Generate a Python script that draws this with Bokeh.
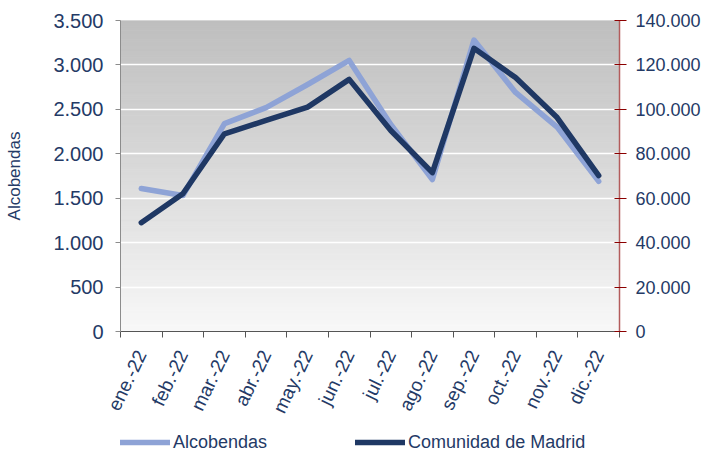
import numpy as np
from bokeh.plotting import figure
from bokeh.layouts import column
from bokeh.models import Range1d, LinearAxis, FixedTicker, Legend, LegendItem, ColumnDataSource
from bokeh.embed import file_html
from bokeh.resources import INLINE

months = ["ene.-22", "feb.-22", "mar.-22", "abr.-22", "may.-22", "jun.-22",
          "jul.-22", "ago.-22", "sep.-22", "oct.-22", "nov.-22", "dic.-22"]
alcobendas = [1610, 1530, 2340, 2520, 2780, 3050, 2330, 1710, 3280, 2690, 2300, 1690]
madrid = [49000, 62000, 89000, 95000, 101000, 113500, 90500, 71500, 127500, 114300, 96300, 70200]
left_ticks = [0, 500, 1000, 1500, 2000, 2500, 3000, 3500]
left_labels = ["0", "500", "1.000", "1.500", "2.000", "2.500", "3.000", "3.500"]
right_ticks = [0, 20000, 40000, 60000, 80000, 100000, 120000, 140000]
right_labels = ["0", "20.000", "40.000", "60.000", "80.000", "100.000", "120.000", "140.000"]
series_names = ["Alcobendas", "Comunidad de Madrid"]

NAVY = "#243a66"
FONT = "Liberation Sans"
C_ALC = "#8ea3d6"
C_MAD = "#1f3864"

n = len(months)
xc = [i + 0.5 for i in range(n)]

p = figure(width=703, height=424, x_range=Range1d(0, n), y_range=Range1d(0, 3500),
           output_backend="svg", toolbar_location=None,
           min_border_left=120, min_border_top=20, min_border_right=80, min_border_bottom=0)
p.extra_y_ranges = {"right": Range1d(0, 140000)}
p.outline_line_color = None
p.background_fill_color = "white"

# gradient background
N = 150
edges = np.linspace(0, 3500, N + 1)
cols = []
for i in range(N):
    t = (i + 0.5) / N  # 0 bottom -> 1 top
    v = int(round(248 - (248 - 190) * t))
    cols.append("#%02x%02x%02x" % (v, v, v))
bg = ColumnDataSource(dict(b=edges[:-1], t=edges[1:], c=cols))
p.quad(left=0, right=n, bottom="b", top="t", fill_color="c", line_color="c", line_width=1,
       source=bg, level="image")

# grid
p.xgrid.visible = False
p.ygrid.ticker = FixedTicker(ticks=left_ticks)
p.ygrid.grid_line_color = "white"
p.ygrid.grid_line_width = 1.5

p.line(xc, alcobendas, line_color=C_ALC, line_width=5.5, line_cap="round", line_join="round")
p.line(xc, madrid, line_color=C_MAD, line_width=5.5, line_cap="round", line_join="round",
       y_range_name="right")

# left axis
ya = p.yaxis[0]
ya.ticker = FixedTicker(ticks=left_ticks)
ya.major_label_overrides = {t: l for t, l in zip(left_ticks, left_labels)}
ya.axis_line_color = "#8c8c8c"
ya.major_tick_line_color = "#8c8c8c"
ya.major_tick_in = 0
ya.major_tick_out = 5
ya.minor_tick_line_color = None
ya.major_label_text_font = FONT
ya.major_label_text_font_size = "20px"
ya.major_label_text_color = NAVY
ya.major_label_standoff = 12
ya.axis_label = "Alcobendas"
ya.axis_label_text_font = FONT
ya.axis_label_text_font_size = "17px"
ya.axis_label_text_font_style = "normal"
ya.axis_label_text_color = NAVY
ya.axis_label_standoff = 26

# right axis
ra = LinearAxis(y_range_name="right", ticker=FixedTicker(ticks=right_ticks))
ra.major_label_overrides = {t: l for t, l in zip(right_ticks, right_labels)}
ra.axis_line_color = "#b35c5c"
ra.axis_line_width = 1.5
ra.major_tick_line_color = "#8b0000"
ra.major_tick_in = 5
ra.major_tick_out = 7
ra.minor_tick_line_color = None
ra.major_label_text_font = FONT
ra.major_label_text_font_size = "18px"
ra.major_label_text_color = NAVY
ra.major_label_standoff = 9
p.add_layout(ra, "right")

# bottom axis
xa = p.xaxis[0]
xa.ticker = FixedTicker(ticks=xc, minor_ticks=list(range(n + 1)))
xa.major_label_overrides = {x: m for x, m in zip(xc, months)}
xa.axis_line_color = "#555555"
xa.major_tick_line_color = None
xa.minor_tick_line_color = "#555555"
xa.minor_tick_in = 0
xa.minor_tick_out = 6
xa.major_tick_out = 6
xa.major_tick_in = 0
xa.major_label_orientation = 1.12
xa.major_label_text_font = FONT
xa.major_label_text_font_size = "19px"
xa.major_label_text_color = NAVY
xa.major_label_standoff = 14

# legend strip (separate figure below the chart; its frame aligns with the chart's frame)
lg = figure(width=703, height=35, x_range=Range1d(100, 101), y_range=Range1d(0, 1),
            output_backend="svg", toolbar_location=None, x_axis_type=None, y_axis_type=None,
            min_border=0, outline_line_color=None)
lg.grid.visible = False
# same series drawn outside the strip's visible range, only to provide the legend glyphs
d1 = lg.line(xc, alcobendas, line_color=C_ALC, line_width=5.5, line_cap="round")
d2 = lg.line(xc, madrid, line_color=C_MAD, line_width=5.5, line_cap="round")
legend = Legend(items=[LegendItem(label=series_names[0], renderers=[d1]),
                       LegendItem(label=series_names[1], renderers=[d2])],
                orientation="horizontal", spacing=88, glyph_width=50, glyph_height=22,
                label_height=22,
                label_standoff=3, label_text_font=FONT, label_text_font_size="18px",
                label_text_color=NAVY, border_line_color=None, background_fill_alpha=0,
                location=(0, 6), padding=0, margin=0)
lg.add_layout(legend, "center")

open("out.html", "w").write(file_html(column(p, lg, spacing=0), INLINE))
